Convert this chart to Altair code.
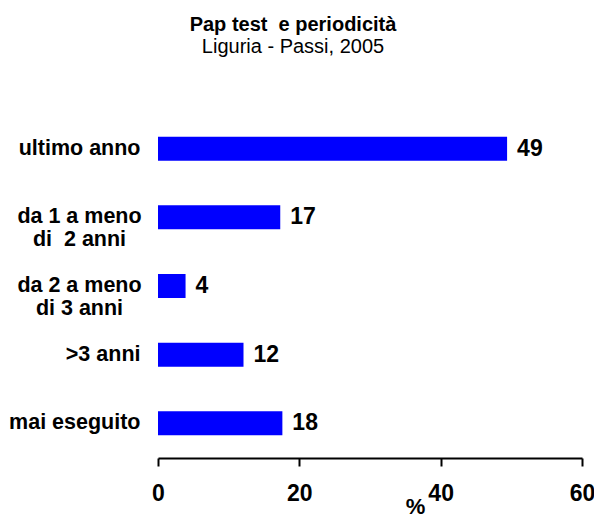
import altair as alt
import pandas as pd

categories = ["ultimo anno", "da 1 a meno|di\u00a0 2 anni", "da 2 a meno|di 3 anni", ">3 anni", "mai eseguito"]
values = [49.4, 17.3, 3.9, 12.1, 17.6]
x_ticks = [0, 20, 40, 60]

df = pd.DataFrame({"cat": categories, "val": values})

FONT = "Liberation Sans"

y_enc = alt.Y(
    "cat:N",
    sort=categories,
    scale=alt.Scale(paddingInner=0.65, paddingOuter=0.33),
    axis=alt.Axis(
        title=None,
        domain=False,
        ticks=False,
        labelExpr="split(datum.label, '|')",
        labelFont=FONT,
        labelFontSize=21.5,
        labelFontWeight="bold",
        labelColor="black",
        labelLineHeight=23,
        labelLimit=0,
        labelBaseline="middle",
        labelAlign={"condition": {"test": "indexof(datum.value, '|') >= 0", "value": "center"}, "value": "right"},
        labelPadding={"condition": {"test": "indexof(datum.value, '|') >= 0", "value": 79}, "value": 18},
    ),
)

x_enc = alt.X(
    "val:Q",
    scale=alt.Scale(domain=[0, 60], nice=False),
    axis=alt.Axis(
        values=x_ticks,
        grid=False,
        domainColor="black",
        domainWidth=2,
        tickColor="black",
        tickWidth=2,
        tickSize=8,
        labelFont=FONT,
        labelFontSize=23,
        labelFontWeight="bold",
        labelColor="black",
        labelPadding=16,
        labelFlush=False,
        title="%",
        titleFont=FONT,
        titleFontSize=22,
        titleFontWeight="bold",
        titleColor="black",
        titleX=257,
        titleY=38,
        titleBaseline="top",
    ),
)

bars = alt.Chart(df).mark_bar(color="#0000FF").encode(x=x_enc, y=y_enc)

labels = alt.Chart(df).mark_text(
    align="left", baseline="middle", dx=10, font=FONT, fontSize=23, fontWeight="bold", color="black"
).encode(
    x="val:Q",
    y=alt.Y("cat:N", sort=categories),
    text=alt.Text("val:Q", format=".0f"),
)

chart = alt.layer(bars, labels).properties(
    width=424,
    height=344,
    background="white",
    autosize=alt.AutoSizeParams(type="none"),
    padding={"left": 150, "top": 106, "right": 12, "bottom": 56},
    title=alt.TitleParams(
        text="Pap test\u00a0 e periodicità",
        subtitle="Liguria - Passi, 2005",
        font=FONT,
        fontSize=20,
        fontWeight="bold",
        color="black",
        subtitleFont=FONT,
        subtitleFontSize=20,
        subtitleColor="black",
        subtitlePadding=2,
        anchor="middle",
        dx=-77,
        offset=57,
    ),
).configure_view(strokeWidth=0, stroke=None)

chart.save("out.html", embed_options={"renderer": "svg", "actions": False})
